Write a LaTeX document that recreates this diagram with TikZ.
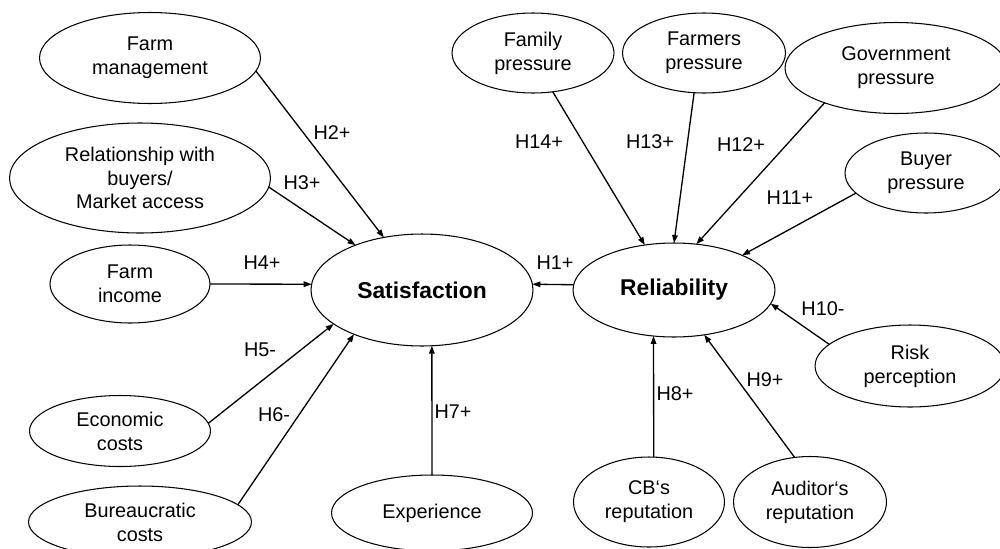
\documentclass[tikz,border=0pt]{standalone}
\usepackage{fontspec}
\setmainfont{Liberation Sans}
\usetikzlibrary{shapes.geometric,arrows.meta}
\begin{document}
\begin{tikzpicture}[x=0.02cm,y=-0.02cm,
    every node/.style={font=\fontsize{11.3}{13.6}\selectfont},
    var/.style={draw,ellipse,line width=0.6pt,inner sep=0pt,outer sep=0pt,align=center},
    >={Triangle[length=4.5pt,width=3.2pt]}]
    \useasboundingbox (0,0) rectangle (1000,548);
    \node[var,minimum width=4.42cm,minimum height=1.82cm] (fmgmt) at (150,58) {Farm\\management};
    \node[var,minimum width=5.22cm,minimum height=2.20cm] (relb) at (140,178) {Relationship with\\buyers/\\Market access};
    \node[var,minimum width=3.20cm,minimum height=1.56cm] (finc) at (130,284) {Farm\\income};
    \node[var,minimum width=3.62cm,minimum height=1.42cm] (ecost) at (120,431) {Economic\\costs};
    \node[var,minimum width=4.46cm,minimum height=1.44cm] (bcost) at (140,522) {Bureaucratic\\costs};
    \node[var,minimum width=4.44cm,minimum height=2.24cm,font=\fontsize{13}{15}\selectfont\bfseries] (sat) at (422,290) {Satisfaction};
    \node[var,minimum width=4.02cm,minimum height=1.52cm] (expe) at (432,513) {Experience};
    \node[var,minimum width=4.04cm,minimum height=1.88cm,font=\fontsize{13}{15}\selectfont\bfseries] (reli) at (674,290) {Reliability};
    \node[var,minimum width=3.24cm,minimum height=1.60cm] (famp) at (533,53) {Family\\pressure};
    \node[var,minimum width=3.26cm,minimum height=1.60cm] (farp) at (704,53) {Farmers\\pressure};
    \node[var,minimum width=4.44cm,minimum height=1.82cm] (govp) at (896,68) {Government\\pressure};
    \node[var,minimum width=3.24cm,minimum height=1.60cm] (buyp) at (926,173) {Buyer\\pressure};
    \node[var,minimum width=3.80cm,minimum height=1.64cm] (riskp) at (910,366) {Risk\\perception};
    \node[var,minimum width=3.02cm,minimum height=1.80cm] (cbrep) at (649,502) {CB‘s\\reputation};
    \node[var,minimum width=3.06cm,minimum height=1.82cm] (audrep) at (810,502) {Auditor‘s\\reputation};
    \draw[->,line width=0.75pt] (reli.177) -- (sat.3);
    \draw[->,line width=0.75pt] (fmgmt.-7) -- (sat.126);
    \draw[->,line width=0.75pt] (relb.-4) -- (sat.146);
    \draw[->,line width=0.75pt] (finc.east) -- (sat.177);
    \draw[->,line width=0.75pt] (ecost.5) -- (sat.201);
    \draw[->,line width=0.75pt] (bcost.10) -- (sat.213);
    \draw[->,line width=0.75pt] (expe.north) -- (sat.-80);
    \draw[->,line width=0.75pt] (cbrep.84) -- (reli.246);
    \draw[->,line width=0.75pt] (audrep.109) -- (reli.304);
    \draw[->,line width=0.75pt] (riskp.165) -- (reli.-8);
    \draw[->,line width=0.75pt] (buyp.196) -- (reli.27);
    \draw[->,line width=0.75pt] (govp.206) -- (reli.64);
    \draw[->,line width=0.75pt] (farp.256) -- (reli.north);
    \draw[->,line width=0.75pt] (famp.297) -- (reli.123);
    \node (h1) at (555,263) {H1+};
    \node (h2) at (332,133) {H2+};
    \node (h3) at (302,183) {H3+};
    \node (h4) at (262,263) {H4+};
    \node (h5) at (260,350) {H5-};
    \node (h6) at (274,415) {H6-};
    \node (h7) at (453,412) {H7+};
    \node (h8) at (675,394) {H8+};
    \node (h9) at (765,380) {H9+};
    \node (h10) at (823,309) {H10-};
    \node (h11) at (790,198) {H11+};
    \node (h12) at (741,145) {H12+};
    \node (h13) at (650,142) {H13+};
    \node (h14) at (539,142) {H14+};
\end{tikzpicture}
\end{document}
